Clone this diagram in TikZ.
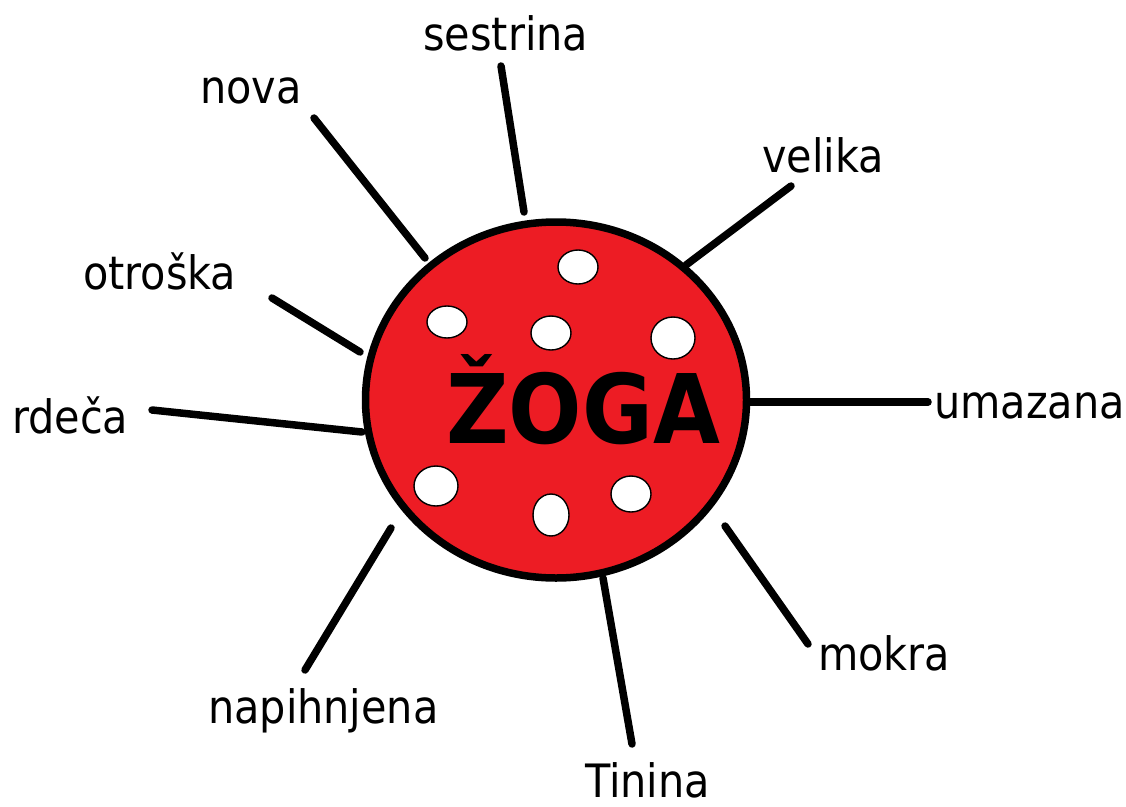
\documentclass[tikz,border=0pt]{standalone}
\usepackage{fontspec}
\setmainfont{DejaVu Sans Condensed}
\usetikzlibrary{shapes.geometric}
\definecolor{ballred}{HTML}{ED1C24}
\begin{document}
\begin{tikzpicture}[x=1pt,y=-1pt,
  lbl/.style={anchor=base west,inner sep=0pt,font=\fontsize{46}{54}\selectfont},
  spoke/.style={line width=7.5pt,line cap=round,black},
  dot/.style={ellipse,draw=black,line width=1.4pt,fill=white,inner sep=0pt}]
\useasboundingbox (0,0) rectangle (1126,806);
% ball
\node[ellipse,draw=black,line width=7.5pt,fill=ballred,minimum width=381pt,minimum height=356pt,inner sep=0pt] (ball) at (556,400) {};
% dots
\node[dot,minimum width=40pt,minimum height=34pt] (d1) at (578,267) {};
\node[dot,minimum width=40pt,minimum height=32pt] (d2) at (447,322) {};
\node[dot,minimum width=40pt,minimum height=34pt] (d3) at (551,333) {};
\node[dot,minimum width=44pt,minimum height=42pt] (d4) at (673,338) {};
\node[dot,minimum width=44pt,minimum height=40pt] (d5) at (436,486) {};
\node[dot,minimum width=36pt,minimum height=42pt] (d6) at (551,515) {};
\node[dot,minimum width=40pt,minimum height=36pt] (d7) at (631,494) {};
% title
\node[anchor=base west,inner sep=0pt,font=\fontsize{96}{110}\selectfont\bfseries] (title) at (446,443) {ŽOGA};
% labels
\node[lbl] (sestrina) at (423,50) {sestrina};
\node[lbl] (nova) at (200,103) {nova};
\node[lbl] (velika) at (762,172) {velika};
\node[lbl] (otroska) at (83,289) {otroška};
\node[lbl] (rdeca) at (12,433) {rdeča};
\node[lbl] (umazana) at (934,418) {umazana};
\node[lbl] (mokra) at (818,670) {mokra};
\node[lbl] (napihnjena) at (208,723) {napihnjena};
\node[lbl] (tinina) at (585,797) {Tinina};
% spoke ends
\coordinate (s1a) at (501,66);  \coordinate (s1b) at (524,212);
\coordinate (s2a) at (314,118); \coordinate (s2b) at (425,258);
\coordinate (s3a) at (791,186); \coordinate (s3b) at (686,265);
\coordinate (s4a) at (272,298); \coordinate (s4b) at (360,352);
\coordinate (s5a) at (152,410); \coordinate (s5b) at (362,432);
\coordinate (s6a) at (748,402); \coordinate (s6b) at (928,402);
\coordinate (s7a) at (725,526); \coordinate (s7b) at (808,644);
\coordinate (s8a) at (603,578); \coordinate (s8b) at (632,744);
\coordinate (s9a) at (391,528); \coordinate (s9b) at (305,670);
\draw[spoke] (s1a) -- (s1b);
\draw[spoke] (s2a) -- (s2b);
\draw[spoke] (s3a) -- (s3b);
\draw[spoke] (s4a) -- (s4b);
\draw[spoke] (s5a) -- (s5b);
\draw[spoke] (s6a) -- (s6b);
\draw[spoke] (s7a) -- (s7b);
\draw[spoke] (s8a) -- (s8b);
\draw[spoke] (s9a) -- (s9b);
\end{tikzpicture}
\end{document}
